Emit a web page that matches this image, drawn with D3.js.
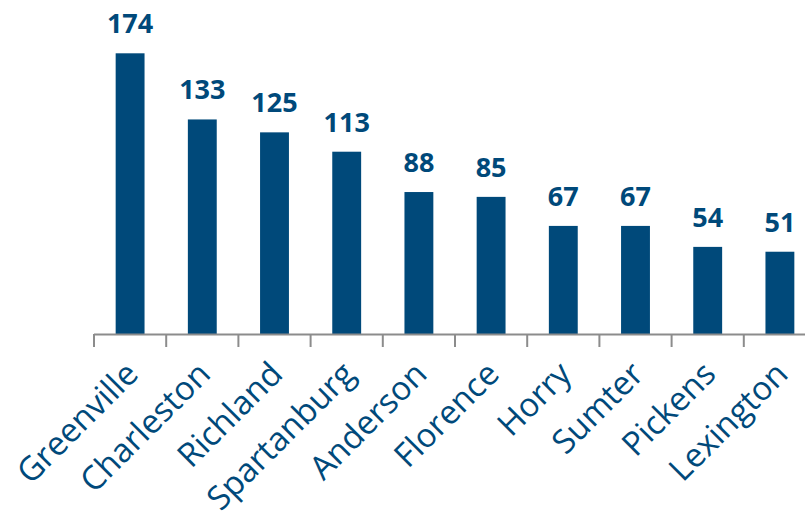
<!DOCTYPE html>
<html><head><meta charset="utf-8">
<script src="https://cdn.jsdelivr.net/npm/d3@7/dist/d3.min.js"></script>
<style>body{margin:0;background:#fff}svg{display:block}</style>
</head><body>
<svg id="c" width="805" height="511"></svg>
<script>
const categories = ["Greenville","Charleston","Richland","Spartanburg","Anderson","Florence","Horry","Sumter","Pickens","Lexington"];
const values = [174,133,125,113,88,85,67,67,54,51];

const color = "#00497a";
const svg = d3.select("#c");
const x = d3.scaleBand().domain(categories).range([94, 816]).paddingInner(0.6).paddingOuter(0.3);
const y = d3.scaleLinear().domain([0, 174]).range([334, 53.3]);

// bars
svg.selectAll("rect.bar").data(categories).enter().append("rect")
  .attr("x", d => x(d)).attr("width", x.bandwidth())
  .attr("y", (d,i) => y(values[i])).attr("height", (d,i) => y(0) - y(values[i]))
  .attr("fill", color);

// axis
const ax = d3.scaleBand().domain(categories).range([94, 816]);
svg.append("line").attr("x1", 94).attr("x2", 816).attr("y1", 334.5).attr("y2", 334.5)
  .attr("stroke", "#8c8c8c").attr("stroke-width", 2);
const tickPos = categories.map(d => ax(d));
svg.selectAll("line.tick").data(tickPos).enter().append("line")
  .attr("x1", d => d).attr("x2", d => d).attr("y1", 334).attr("y2", 347)
  .attr("stroke", "#8c8c8c").attr("stroke-width", 2);

// value labels
svg.selectAll("text.val").data(categories).enter().append("text")
  .attr("x", d => x(d) + x.bandwidth()/2).attr("y", (d,i) => y(values[i]) - 20)
  .attr("text-anchor", "middle").attr("fill", color)
  .attr("font-family", "'Open Sans', sans-serif").attr("font-weight", "bold").attr("font-size", 27)
  .text((d,i) => values[i]);

// category labels
svg.selectAll("text.cat").data(categories).enter().append("text")
  .attr("transform", d => `translate(${ax(d) + ax.bandwidth()/2 + 10},${376}) rotate(-45)`)
  .attr("text-anchor", "end").attr("fill", color)
  .attr("font-family", "'Open Sans', sans-serif").attr("font-size", 33)
  .text(d => d);
</script>
</body></html>
